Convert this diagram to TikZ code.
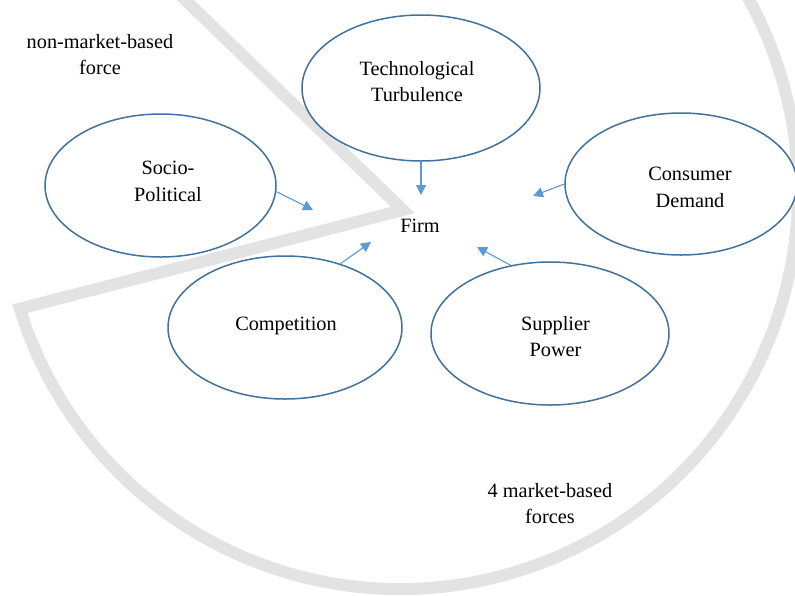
\documentclass[tikz,border=0pt]{standalone}
\usepackage{fontspec}
\setmainfont{Liberation Serif}
\usetikzlibrary{shapes.geometric,arrows.meta,calc}
\definecolor{pieGray}{HTML}{E3E3E3}
\definecolor{ringBlue}{HTML}{41719C}
\definecolor{arrowBlue}{HTML}{5B9BD5}
\begin{document}
\begin{tikzpicture}[x=1pt,y=-1pt,
  force/.style={ellipse, draw=ringBlue, line width=1.5pt, fill=white, inner sep=0pt},
  caption/.style={anchor=north, inner sep=0pt, align=center,
    font=\fontsize{20.3}{26.5}\selectfont},
  push/.style={draw=arrowBlue, line width=1.1pt, -{Triangle[length=10pt,width=10pt]}},
  pieline/.style={draw=pieGray, line width=12pt, line join=miter}]
\clip (0,0) rectangle (795,595);

% pie outline: the market sector, with the non-market wedge cut out
\coordinate (V) at (403,210);
\coordinate (C) at (400,191);
\draw[pieline] (V) -- ($(C)+(162.8:398)$)
  arc[start angle=162.8, end angle=-137.7, radius=398] -- cycle;

% the five forces
\node[force, minimum width=238pt, minimum height=146pt] (tech)  at (421,88)    {};
\node[force, minimum width=231pt, minimum height=143pt] (socio) at (160.5,185.5) {};
\node[force, minimum width=232pt, minimum height=142pt] (cons)  at (681,184)   {};
\node[force, minimum width=234pt, minimum height=143pt] (comp)  at (285,327.5) {};
\node[force, minimum width=238pt, minimum height=143pt] (supp)  at (550,333.5) {};

\node[caption] (techtext)  at (417,61)    {Technological\\Turbulence};
\node[caption] (sociotext) at (168,161)   {Socio-\\Political};
\node[caption] (constext)  at (690,167)   {Consumer\\Demand};
\node[caption] (comptext)  at (286,317)   {Competition};
\node[caption] (supptext)  at (555.5,316) {Supplier\\Power};

% labels
\node[caption] (firm)      at (420,219)   {Firm};
\node[caption] (nonmarket) at (100,34)    {non-market-based\\force};
\node[caption] (market)    at (550,483)   {4 market-based\\forces};

% arrow ends near the firm
\coordinate (t1) at (421,195);
\coordinate (s1) at (313,210);
\coordinate (c1) at (533,196);
\coordinate (k1) at (371,242);
\coordinate (p1) at (477,247);

\draw[push] (tech.south) -- (t1);
\draw[push] (socio.-3)   -- (s1);
\draw[push] (cons.west)  -- (c1);
\draw[push] (comp.49.5)  -- (k1);
\draw[push] (supp.120.3) -- (p1);
\end{tikzpicture}
\end{document}
